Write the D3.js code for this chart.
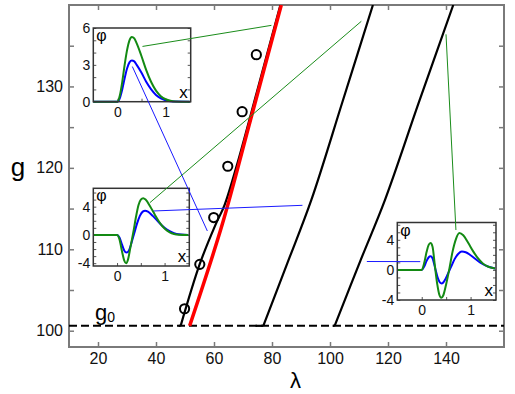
<!DOCTYPE html>
<html>
<head>
<meta charset="utf-8">
<script src="https://cdn.jsdelivr.net/npm/d3@7"></script>
<style>
  body { margin: 0; background: #fff; }
  svg { display: block; font-family: "Liberation Sans", Arial, sans-serif; }
</style>
</head>
<body>
<svg id="chart" width="515" height="394"></svg>
<script>
// --- Main panel data (lambda, g) ---
const xTicks = [20, 40, 60, 80, 100, 120, 140];
const yTicks = [100, 105, 110, 115, 120, 125, 130, 135];
const g0 = 100.6;

// first point of each branch = start of the short solid piece on g0, second = kink
const branch1 = [[47.8, 100.6], [48.5, 100.6], [55.1, 108.2], [60.5, 113.0], [63.6, 115.4], [68.1, 120.6], [75.3, 130], [82.9, 140]];
const branch2 = [[74.3, 100.6], [77.0, 100.6], [85.3, 108.3], [93.6, 116.1], [104.2, 128.0], [114.8, 140]];
const branch3 = [[100.9, 100.6], [101.6, 100.6], [110.6, 108.7], [119.0, 116.1], [130.6, 128.0], [142.5, 140]];
const redLine = [[51.6, 100.6], [62.8, 113.0], [72.6, 125.9], [83.2, 140]];
const circles = [[49.85, 102.7], [55.1, 108.15], [59.9, 113.9], [64.75, 120.2], [69.7, 126.9], [74.6, 133.9]];

// --- Inset data (x, phi) ---
const inset1Green = [[-0.5, 0], [0, 0], [0.05, 0.5], [0.1, 1.6], [0.15, 3.0], [0.2, 4.2], [0.25, 5.0], [0.3, 5.27], [0.35, 5.15], [0.4, 4.75], [0.5, 3.7], [0.6, 2.55], [0.7, 1.6], [0.8, 0.9], [0.9, 0.45], [1.0, 0.2], [1.1, 0.07], [1.2, 0.02], [1.5, 0]];
const inset1Blue = [[-0.5, 0], [0, 0], [0.05, 0.3], [0.1, 1.0], [0.15, 1.9], [0.2, 2.7], [0.25, 3.2], [0.3, 3.35], [0.35, 3.28], [0.4, 3.0], [0.5, 2.35], [0.6, 1.6], [0.7, 1.0], [0.8, 0.55], [0.9, 0.28], [1.0, 0.12], [1.1, 0.04], [1.2, 0.01], [1.5, 0]];

const inset2Green = [[-0.5, 0], [0, 0], [0.05, -0.6], [0.1, -2.2], [0.15, -3.6], [0.19, -4.0], [0.23, -3.5], [0.28, -1.8], [0.34, 0.3], [0.4, 2.6], [0.45, 4.2], [0.5, 5.0], [0.55, 5.2], [0.6, 5.0], [0.7, 4.0], [0.8, 2.8], [0.9, 1.7], [1.0, 0.9], [1.1, 0.4], [1.2, 0.12], [1.3, 0.03], [1.5, 0]];
const inset2Blue = [[-0.5, 0], [0, 0], [0.05, -0.35], [0.1, -1.3], [0.15, -2.2], [0.2, -2.5], [0.25, -2.2], [0.3, -1.2], [0.36, 0.2], [0.42, 1.6], [0.48, 2.7], [0.54, 3.3], [0.59, 3.43], [0.65, 3.3], [0.75, 2.7], [0.85, 2.0], [0.95, 1.3], [1.05, 0.75], [1.15, 0.38], [1.25, 0.15], [1.35, 0.05], [1.5, 0]];

const inset3Green = [[-0.5, 0], [0, 0], [0.05, 0.9], [0.1, 2.4], [0.14, 3.3], [0.18, 3.56], [0.22, 3.1], [0.27, 0.5], [0.32, -2.0], [0.36, -3.3], [0.4, -3.7], [0.44, -3.4], [0.5, -1.9], [0.57, 0.3], [0.63, 2.4], [0.7, 4.1], [0.77, 4.9], [0.85, 4.6], [0.95, 3.6], [1.05, 2.5], [1.15, 1.55], [1.25, 0.85], [1.35, 0.45], [1.5, 0.2]];
const inset3Blue = [[-0.5, 0], [0, 0], [0.05, 0.45], [0.1, 1.2], [0.14, 1.65], [0.18, 1.8], [0.22, 1.55], [0.28, 0.1], [0.33, -1.1], [0.37, -1.65], [0.41, -1.8], [0.46, -1.5], [0.53, -0.6], [0.6, 0.4], [0.67, 1.4], [0.75, 2.15], [0.82, 2.44], [0.9, 2.35], [1.0, 1.95], [1.1, 1.45], [1.2, 0.95], [1.3, 0.6], [1.4, 0.35], [1.5, 0.2]];

// connectors: inset index, point in inset (x, phi), point in main (lambda, g)
const connectors = [
  { inset: 0, from: [0.52, 4.5], to: [79.8, 137.5], color: "#1a8c1a" },
  { inset: 0, from: [0.31, 2.86], to: [57.7, 112.25], color: "#1a1aff" },
  { inset: 1, from: [0.69, 4.56], to: [110.8, 138.0], color: "#1a8c1a" },
  { inset: 1, from: [0.77, 3.39], to: [90.5, 115.4], color: "#1a1aff" },
  { inset: 2, from: [0.70, 5.3], to: [140.0, 136.4], color: "#1a8c1a" },
  { inset: 2, from: [-0.03, 1.1], to: [112.7, 108.5], color: "#1a1aff" }
];

const svg = d3.select("#chart");
const frame = { left: 69, top: 5, right: 504, bottom: 347 };

// --- Scales ---
const x = d3.scaleLinear().domain([10, 160]).range([frame.left, frame.right]);
const y = d3.scaleLinear().domain([98, 140]).range([frame.bottom, frame.top]);

svg.append("defs").append("clipPath").attr("id", "plotClip")
  .append("rect")
  .attr("x", frame.left).attr("y", frame.top)
  .attr("width", frame.right - frame.left).attr("height", frame.bottom - frame.top);

// --- Axes (all ticks inward) ---
const axisColor = "#7a7a7a";
function styleAxis(a) {
  a.select(".domain").remove();
  a.selectAll("line").attr("stroke", axisColor).attr("stroke-width", 1.5);
  a.selectAll("text").attr("fill", "#111").attr("font-size", 16);
}

svg.append("g")
  .attr("transform", `translate(0,${frame.bottom})`)
  .call(d3.axisBottom(x).tickValues(xTicks).tickSize(-5).tickPadding(6).tickFormat(d => d))
  .call(styleAxis);

svg.append("g")
  .attr("transform", `translate(0,${frame.top})`)
  .call(d3.axisTop(x).tickValues(xTicks).tickSize(-5).tickFormat(""))
  .call(styleAxis);

svg.append("g")
  .attr("transform", `translate(${frame.left},0)`)
  .call(d3.axisLeft(y).tickValues(yTicks).tickSize(-5).tickPadding(6)
    .tickFormat(d => d % 10 === 0 ? d : ""))
  .call(styleAxis);

svg.append("g")
  .attr("transform", `translate(${frame.right},0)`)
  .call(d3.axisRight(y).tickValues(yTicks).tickSize(-5).tickFormat(""))
  .call(styleAxis);

svg.append("rect")
  .attr("x", frame.left).attr("y", frame.top)
  .attr("width", frame.right - frame.left).attr("height", frame.bottom - frame.top)
  .attr("fill", "none").attr("stroke", axisColor).attr("stroke-width", 2);

// --- Main curves ---
const plot = svg.append("g").attr("clip-path", "url(#plotClip)");
const line = d3.line().x(d => x(d[0])).y(d => y(d[1]));
const smooth = d3.line().x(d => x(d[0])).y(d => y(d[1])).curve(d3.curveCatmullRom);

plot.append("line")
  .attr("x1", frame.left).attr("x2", frame.right)
  .attr("y1", y(g0)).attr("y2", y(g0))
  .attr("stroke", "#000").attr("stroke-width", 2)
  .attr("stroke-dasharray", "8,4");

[branch1, branch2, branch3].forEach(b => {
  // flat piece on g0, then the rising part
  plot.append("path")
    .datum(b.slice(0, 2))
    .attr("fill", "none").attr("stroke", "#000").attr("stroke-width", 2.2)
    .attr("d", line);
  plot.append("path")
    .datum(b.slice(1))
    .attr("fill", "none")
    .attr("stroke", "#000")
    .attr("stroke-width", 2.2)
    .attr("d", smooth);
});

plot.append("path")
  .datum(redLine)
  .attr("fill", "none")
  .attr("stroke", "#ff0000")
  .attr("stroke-width", 3.5)
  .attr("d", smooth);

plot.selectAll(".pt")
  .data(circles)
  .join("circle")
  .attr("class", "pt")
  .attr("cx", d => x(d[0]))
  .attr("cy", d => y(d[1]))
  .attr("r", 4.6)
  .attr("fill", "none")
  .attr("stroke", "#000")
  .attr("stroke-width", 2);

// --- Insets ---
const insetBoxes = [
  { left: 93.3, top: 28, right: 190.7, bottom: 101.7, yDomain: [0, 6], yLabels: [0, 3, 6], green: inset1Green, blue: inset1Blue },
  { left: 93.3, top: 188.3, right: 189.3, bottom: 266, yDomain: [-4.4, 6.6], yLabels: [-4, 0, 4], green: inset2Green, blue: inset2Blue },
  { left: 397.3, top: 222.5, right: 496, bottom: 300, yDomain: [-4, 6.3], yLabels: [-4, 0, 4], green: inset3Green, blue: inset3Blue }
];

const insetScales = insetBoxes.map((b, i) => {
  const ix = d3.scaleLinear().domain([-0.5, 1.52]).range([b.left, b.right]);
  const iy = d3.scaleLinear().domain(b.yDomain).range([b.bottom, b.top]);
  const gi = svg.append("g").attr("class", `inset${i + 1}`);

  gi.append("rect")
    .attr("x", b.left).attr("y", b.top)
    .attr("width", b.right - b.left).attr("height", b.bottom - b.top)
    .attr("fill", "#fff");

  const yInt = d3.range(Math.ceil(b.yDomain[0]), Math.floor(b.yDomain[1]) + 1);

  gi.append("g")
    .attr("transform", `translate(${b.left},0)`)
    .call(d3.axisLeft(iy).tickValues(yInt).tickSize(-3).tickPadding(3)
      .tickFormat(d => b.yLabels.includes(d) ? String(d) : ""))
    .call(a => {
      a.select(".domain").remove();
      a.selectAll("line").attr("stroke", "#555");
      a.selectAll("text").attr("font-size", 14).attr("fill", "#111");
    });

  gi.append("g")
    .attr("transform", `translate(${b.right},0)`)
    .call(d3.axisRight(iy).tickValues(yInt).tickSize(-3).tickFormat(""))
    .call(a => { a.select(".domain").remove(); a.selectAll("line").attr("stroke", "#555"); });

  gi.append("g")
    .attr("transform", `translate(0,${b.bottom})`)
    .call(d3.axisBottom(ix).tickValues([0, 0.5, 1]).tickSize(-3).tickPadding(5)
      .tickFormat(d => d === 0.5 ? "" : String(d)))
    .call(a => {
      a.select(".domain").remove();
      a.selectAll("line").attr("stroke", "#555");
      a.selectAll("text").attr("font-size", 14).attr("fill", "#111");
    });

  const iline = d3.line().x(d => ix(d[0])).y(d => iy(d[1])).curve(d3.curveMonotoneX);

  gi.append("path").datum(b.blue)
    .attr("fill", "none").attr("stroke", "#0000ff").attr("stroke-width", 2).attr("d", iline);
  gi.append("path").datum(b.green)
    .attr("fill", "none").attr("stroke", "#138a13").attr("stroke-width", 2).attr("d", iline);

  gi.append("rect")
    .attr("x", b.left).attr("y", b.top)
    .attr("width", b.right - b.left).attr("height", b.bottom - b.top)
    .attr("fill", "none").attr("stroke", "#333").attr("stroke-width", 1.5);

  gi.append("text")
    .attr("x", b.left + 3).attr("y", b.top + 13)
    .attr("font-size", 16).text("φ");
  gi.append("text")
    .attr("x", b.right - 3).attr("y", b.bottom - 4)
    .attr("text-anchor", "end")
    .attr("font-size", 17).text("x");

  return { ix, iy };
});

// --- Connector lines ---
connectors.forEach(c => {
  const s = insetScales[c.inset];
  svg.append("line")
    .attr("x1", s.ix(c.from[0])).attr("y1", s.iy(c.from[1]))
    .attr("x2", x(c.to[0])).attr("y2", y(c.to[1]))
    .attr("stroke", c.color)
    .attr("stroke-width", 1);
});

// --- Labels ---
svg.append("text")
  .attr("x", 18).attr("y", 176)
  .attr("text-anchor", "middle")
  .attr("font-size", 26)
  .text("g");

svg.append("text")
  .attr("x", 295.5).attr("y", 388)
  .attr("text-anchor", "middle")
  .attr("font-size", 22)
  .text("λ");

const g0Label = svg.append("text").attr("x", 95).attr("y", 320).attr("font-size", 22);
g0Label.append("tspan").text("g");
g0Label.append("tspan").attr("font-size", 14).attr("dy", 2).text("0");
</script>
</body>
</html>
